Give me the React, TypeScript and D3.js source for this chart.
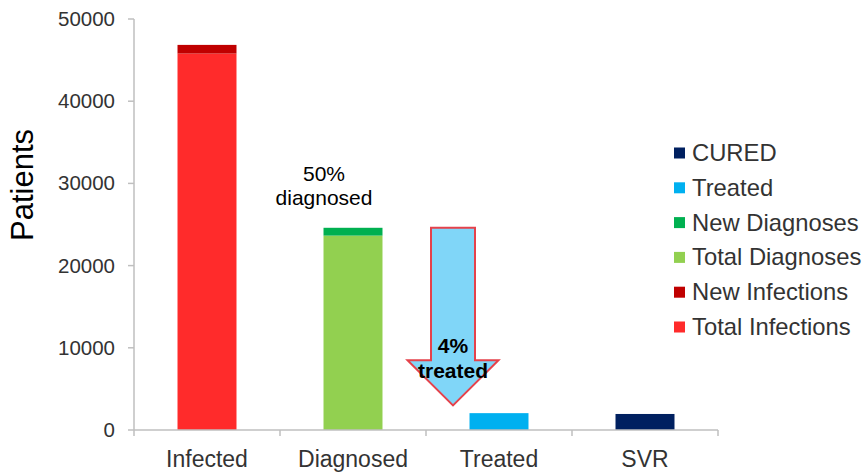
import React from "react";
import * as d3 from "d3";

const categories = ["Infected", "Diagnosed", "Treated", "SVR"];
const seriesNames = ["Total Infections", "New Infections", "Total Diagnoses", "New Diagnoses", "Treated", "CURED"];
const seriesColors = ["#FF2B2B", "#C00000", "#92D050", "#00B050", "#00B0F0", "#002060"];
// values per series, indexed by category
const totalInfections = [45800, 0, 0, 0];
const newInfections = [1050, 0, 0, 0];
const totalDiagnoses = [0, 23650, 0, 0];
const newDiagnoses = [0, 950, 0, 0];
const treated = [0, 0, 2050, 0];
const cured = [0, 0, 0, 1950];
const yTicks = [0, 10000, 20000, 30000, 40000, 50000];
// arrow annotation: from the diagnosed level down toward treated
const arrowHeadBase = 8500;
const arrowTip = 3000;

const W = 867;
const H = 474;
const FONT = "'Liberation Sans', Arial, sans-serif";

export default function App() {
  const x = d3.scaleBand<string>().domain(categories).range([134, 718]).padding(0);
  const y = d3.scaleLinear().domain([0, 50000]).range([430, 19]);
  const barW = x.bandwidth() * 0.404;

  const seriesValues = [totalInfections, newInfections, totalDiagnoses, newDiagnoses, treated, cured];
  const table = categories.map((c, i) => {
    const row: Record<string, any> = { cat: c };
    seriesNames.forEach((s, k) => (row[s] = seriesValues[k][i]));
    return row;
  });
  const stacked = d3.stack<any>().keys(seriesNames)(table);

  const legendOrder = [...seriesNames].reverse();
  const legendColors = [...seriesColors].reverse();

  // arrow sits just left of the Treated bar
  const dc = (x("Treated") as number) + 27;
  const shaftHalf = 22;
  const headHalf = 45.5;
  const arrowTop = y(totalDiagnoses[1] + newDiagnoses[1]);
  const arrowPts: [number, number][] = [
    [dc - shaftHalf, arrowTop],
    [dc + shaftHalf, arrowTop],
    [dc + shaftHalf, y(arrowHeadBase)],
    [dc + headHalf, y(arrowHeadBase)],
    [dc, y(arrowTip)],
    [dc - headHalf, y(arrowHeadBase)],
    [dc - shaftHalf, y(arrowHeadBase)],
  ];

  const diagLabelX = (x("Diagnosed") as number) + 44;

  return (
    <svg width={W} height={H} style={{ position: "absolute", left: 0, top: 0, background: "#fff" }} fontFamily={FONT}>
      {/* y axis */}
      <line x1={134} x2={134} y1={y(50000)} y2={y(0)} stroke="#BFBFBF" strokeWidth={1.5} />
      {yTicks.map((t) => (
        <g key={t}>
          <line x1={128} x2={134} y1={y(t)} y2={y(t)} stroke="#BFBFBF" strokeWidth={1.5} />
          <text x={115} y={y(t) + 7} textAnchor="end" fontSize={20.5} fill="#333">
            {t}
          </text>
        </g>
      ))}
      <text transform={`translate(33,185) rotate(-90)`} textAnchor="middle" fontSize={31} fill="#000">
        Patients
      </text>

      {/* bars */}
      {stacked.map((layer, k) => (
        <g key={layer.key} fill={seriesColors[k]}>
          {layer.map((d, i) =>
            d[1] - d[0] > 0 ? (
              <rect
                key={i}
                x={(x(categories[i]) as number) + (x.bandwidth() - barW) / 2}
                y={y(d[1])}
                width={barW}
                height={y(d[0]) - y(d[1])}
              />
            ) : null
          )}
        </g>
      ))}

      {/* x axis */}
      <line x1={134} x2={718} y1={y(0)} y2={y(0)} stroke="#BFBFBF" strokeWidth={1.5} />
      {[...categories.map((c) => x(c) as number), 718].map((px, i) => (
        <line key={i} x1={px} x2={px} y1={y(0)} y2={y(0) + 6} stroke="#BFBFBF" strokeWidth={1.5} />
      ))}
      {categories.map((c) => (
        <text key={c} x={(x(c) as number) + x.bandwidth() / 2} y={467} textAnchor="middle" fontSize={23} fill="#333">
          {c}
        </text>
      ))}

      {/* annotations */}
      <text x={diagLabelX} y={181} textAnchor="middle" fontSize={21} fill="#000">
        50%
      </text>
      <text x={diagLabelX} y={205} textAnchor="middle" fontSize={21} fill="#000">
        diagnosed
      </text>
      <polygon
        points={arrowPts.map((p) => p.join(",")).join(" ")}
        fill="#80D6F8"
        stroke="#E5424B"
        strokeWidth={2}
        strokeLinejoin="miter"
      />
      <text x={dc} y={353} textAnchor="middle" fontSize={21} fontWeight="bold" fill="#000">
        4%
      </text>
      <text x={dc} y={378} textAnchor="middle" fontSize={21} fontWeight="bold" fill="#000">
        treated
      </text>

      {/* legend */}
      {legendOrder.map((name, i) => {
        const cy = 153 + i * 34.8;
        return (
          <g key={name}>
            <rect x={674} y={cy - 5.5} width={11} height={11} fill={legendColors[i]} />
            <text x={692} y={cy + 8} fontSize={23.8} fill="#333">
              {name}
            </text>
          </g>
        );
      })}
    </svg>
  );
}
